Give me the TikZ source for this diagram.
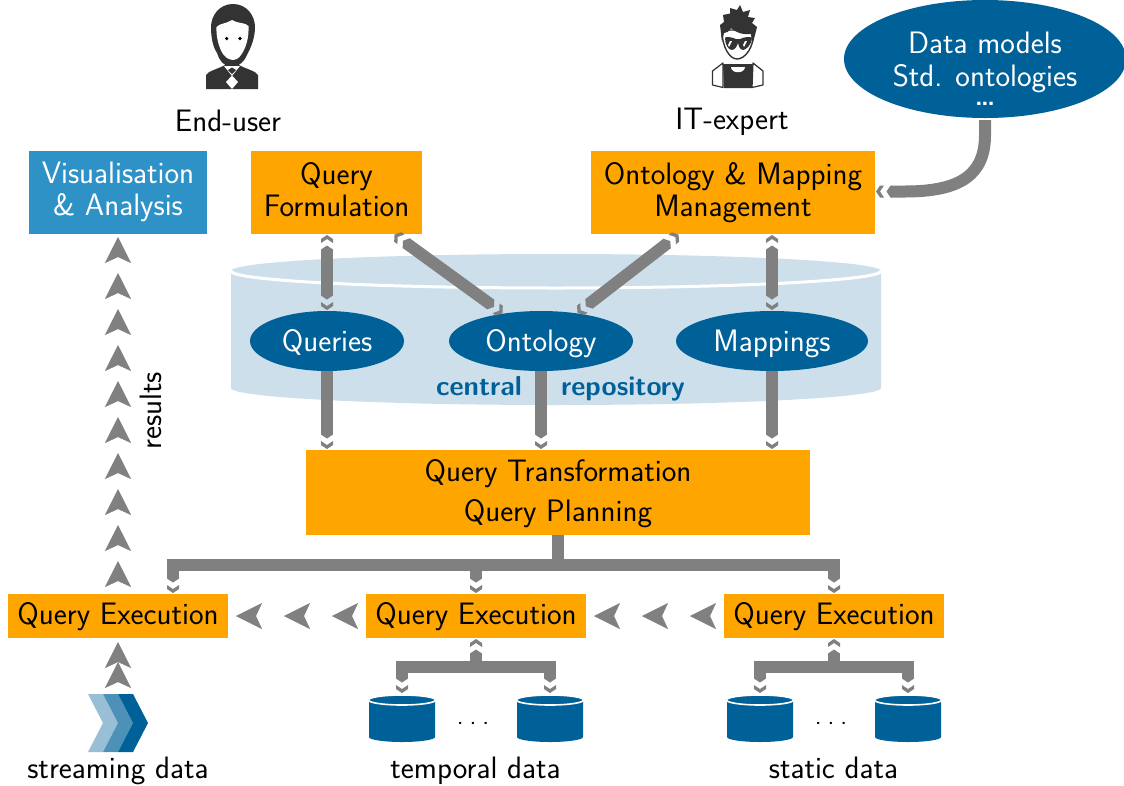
\documentclass[tikz,border=0pt]{standalone}
\usetikzlibrary{arrows.meta,shapes.geometric,decorations.markings,calc}
\definecolor{qorange}{HTML}{FFA500}
\definecolor{qblue}{HTML}{006199}
\definecolor{qvis}{HTML}{2E92C6}
\definecolor{qlight}{HTML}{CCDFEB}
\definecolor{qgray}{HTML}{808080}
\definecolor{qdark}{HTML}{333333}
\definecolor{qmid}{HTML}{4D90B8}
\definecolor{qpale}{HTML}{99BFD6}
\pgfdeclarearrow{
 name=QTip,
 setup code={
  \pgfarrowssettipend{0pt}
  \pgfarrowssetbackend{-16pt}
  \pgfarrowssetlineend{-15pt}
  \pgfarrowssetvisualbackend{-15pt}
  \pgfarrowshullpoint{0pt}{0pt}
  \pgfarrowshullpoint{-16pt}{6pt}
  \pgfarrowshullpoint{-16pt}{-6pt}
 },
 drawing code={
  \pgfpathmoveto{\pgfqpoint{0pt}{0pt}}
  \pgfpathlineto{\pgfqpoint{-4pt}{6pt}}
  \pgfpathlineto{\pgfqpoint{-8pt}{6pt}}
  \pgfpathlineto{\pgfqpoint{-4pt}{0pt}}
  \pgfpathlineto{\pgfqpoint{-8pt}{-6pt}}
  \pgfpathlineto{\pgfqpoint{-4pt}{-6pt}}
  \pgfpathclose
  \pgfpathmoveto{\pgfqpoint{-10.5pt}{0pt}}
  \pgfpathlineto{\pgfqpoint{-14.5pt}{6pt}}
  \pgfpathlineto{\pgfqpoint{-15.5pt}{6pt}}
  \pgfpathlineto{\pgfqpoint{-15.5pt}{-6pt}}
  \pgfpathlineto{\pgfqpoint{-14.5pt}{-6pt}}
  \pgfpathclose
  \pgfusepathqfill
 }
}
\tikzset{
 x=1pt,y=-1pt,
 every node/.style={font=\fontsize{31}{31.5}\selectfont\sffamily,inner sep=0pt,outer sep=0pt},
 obox/.style={fill=qorange,text=black,align=center,minimum height=#1},
 blob/.style={ellipse,fill=qblue,text=white,align=center},
 conn/.style={draw=qgray,line width=12pt},
 both/.style={conn,{QTip}-{QTip},shorten >=1pt,shorten <=1pt},
 down/.style={conn,-{QTip},shorten >=1pt},
 chain/.style={draw=none,postaction={decorate,decoration={markings,mark=between positions 0 and 1 step #1 with {\arrow[qgray]{Stealth[length=26pt,width=26pt,inset=6pt]}}}}},
 dbnode/.style={minimum width=66pt,minimum height=47pt},
 lab/.style={text=black,anchor=base},
 boldlab/.style={text=qblue,anchor=base,font=\fontsize{27.5}{31}\selectfont\sffamily\bfseries},
 onerow/.style={text height=24pt,text depth=#1},
 dotlab/.style={text=black,anchor=base,font=\fontsize{26}{31}\selectfont\sffamily},
}
\newcommand\qdb[2]{%
 \fill[qblue] (#1-33,#2-18) -- (#1-33,#2+19) arc[x radius=33,y radius=5,start angle=180,end angle=0] -- (#1+33,#2-18) -- cycle;
 \draw[white,line width=1.6pt,fill=qblue] (#1,#2-18) ellipse[x radius=33.5,y radius=5];
}
\begin{document}
\begin{tikzpicture}
\useasboundingbox (0,0) rectangle (1124,785);
\fill[white] (0,0) rectangle (1124,785);

% central repository
\fill[qlight] (231,271) -- (231,388) arc[x radius=325,y radius=17,start angle=180,end angle=0] -- (881,271) arc[x radius=325,y radius=17,start angle=0,end angle=-180] -- cycle;
\draw[white,line width=3pt] (231,271) arc[x radius=325,y radius=17,start angle=180,end angle=0];

% nodes
\node[obox=83pt,minimum width=178pt,fill=qvis,text=white] (vis) at (118,192) {Visualisation\\\& Analysis};
\node[obox=83pt,minimum width=171pt] (qf) at (336.5,192.5) {Query\\Formulation\vphantom{y}};
\node[obox=83pt,minimum width=284pt] (omm) at (733,192.5) {Ontology \& Mapping\\Management};
\node[blob,minimum width=154pt,minimum height=60pt,onerow=4pt] (q) at (327,341) {Queries};
\node[blob,minimum width=184pt,minimum height=60pt,onerow=4pt] (ont) at (541,341) {Ontology};
\node[blob,minimum width=192pt,minimum height=60pt,onerow=4pt] (map) at (772,341) {Mappings};
\node[blob,minimum width=282pt,minimum height=118pt,inner sep=-40pt,font=\fontsize{31}{33}\selectfont\sffamily] (dm) at (985,59) {\rule{0pt}{40pt}Data models\\Std. ontologies\\[-14pt]{\fontsize{25}{25}\selectfont\bfseries.\kern-1.5pt.\kern-1.5pt.}};
\node[boldlab] (cen) at (479,395) {central};
\node[boldlab] (rep) at (623,395) {repository};
\node[obox=85pt,minimum width=504pt,font=\fontsize{31}{40}\selectfont\sffamily] (qt) at (558,492.5) {\rule{0pt}{24pt}Query Transformation\\Query Planning};
\node[obox=44pt,minimum width=220pt,onerow=7pt] (qe1) at (118,616) {Query Execution};
\node[obox=44pt,minimum width=220pt,onerow=7pt] (qe2) at (476,616) {Query Execution};
\node[obox=44pt,minimum width=220pt,onerow=7pt] (qe3) at (834,616) {Query Execution};
\node[lab] (eu) at (228,131) {End-user};
\node[lab] (it) at (732,129) {IT-expert};
\node[text=black,rotate=90] (res) at (151,411) {results};
\node[lab] (sd) at (118,778) {streaming data};
\node[lab] (td) at (475.5,778) {temporal data};
\node[lab] (st) at (833.5,778) {static data};

% databases
\qdb{402}{718}\qdb{550}{718}\qdb{760}{718}\qdb{908}{718}
\node[dbnode] (d1) at (402,718.5) {};
\node[dbnode] (d2) at (550,718.5) {};
\node[dbnode] (d3) at (760,718.5) {};
\node[dbnode] (d4) at (908,718.5) {};
\node[dotlab] (dots1) at (473,724) {.\hspace{6pt}.\hspace{6pt}.};
\node[dotlab] (dots2) at (831,724) {.\hspace{6pt}.\hspace{6pt}.};

% streaming chevrons
\node[minimum width=60pt,minimum height=58pt] (stream) at (118,723) {};
\foreach \dx/\c in {-30/qpale,-15/qmid,0/qblue}
 \fill[\c,shift={(\dx,0)}] (118,694) -- (133,694) -- (148,723) -- (133,752) -- (118,752) -- (133,723) -- cycle;

% connectors
\draw[both] (q |- qf.south) -- (q.north);
\draw[both] (qf) -- (ont);
\draw[both] (omm) -- (ont);
\draw[both] (map |- omm.south) -- (map.north);
\draw[down] (q.south) -- (q |- qt.north);
\draw[down] (ont.south) -- (ont |- qt.north);
\draw[down] (map.south) -- (map |- qt.north);
\draw[down] (dm.south) ++(0,2) -- (985,135) .. controls (985,175) and (960,191.5) .. (905,191.5) -- (omm.east |- 0,191.5);
\coordinate (j1) at (173,594);
\draw[down] (qt.south) -- ++(0,30) -| (j1);
\draw[down] (qt.south) -- ++(0,30) -| (qe2.north);
\draw[down] (qt.south) -- ++(0,30) -| (qe3.north);
\draw[both,shorten >=2pt] (qe2.south) -- ++(0,29) -| (d1.north);
\draw[down,shorten >=2pt] (qe2.south) ++(0,29) -| (d2.north);
\draw[both,shorten >=2pt] (qe3.south) -- ++(0,29) -| (d3.north);
\draw[down,shorten >=2pt] (qe3.south) ++(0,29) -| (d4.north);

% arrow chains
\path[chain=36pt] (qe1.north) ++(0,-33) -- (vis.south);
\path[chain=48pt] (qe2.west) ++(-34,0) -- (qe1.east);
\path[chain=48pt] (qe3.west) ++(-34,0) -- (qe2.east);
\path[chain=20pt] (stream.north) ++(0,-32) -- (qe1.south);

% end-user icon
\node[minimum width=52pt,minimum height=88pt] (euicon) at (232,47) {};
\fill[qdark] (206,89) -- (206,75) .. controls (208,71) and (218,69) .. (225,65) -- (239,65) .. controls (246,69) and (256,71) .. (258,75) -- (258,89) -- cycle;
\fill[qdark] (233,4) .. controls (247,4) and (255,16) .. (255,27) .. controls (255,38) and (251,47) .. (248,53) .. controls (245,60) and (240,67) .. (232,67) .. controls (224,67) and (219,60) .. (217,53) .. controls (213,47) and (211,38) .. (211,27) .. controls (211,16) and (219,4) .. (233,4) -- cycle;
\fill[white] (232,20) .. controls (226,24) and (220,23) .. (216.5,27) .. controls (216,37) and (219,48) .. (223,54) .. controls (227,60) and (236,63) .. (241,55) .. controls (246,48) and (249,38) .. (248.5,26) .. controls (245,22) and (238,24) .. (232,20) -- cycle;
\fill[black] (226.7,38.5) circle[radius=1.8];
\fill[black] (240,38.5) circle[radius=1.8];
\fill[white] (224,66) -- (240,66) -- (232,76) -- cycle;
\fill[qdark] (228,70) -- (232,67.5) -- (236,70) -- (232,74) -- cycle;
\fill[white] (232,75.5) -- (238,82) -- (232,89) -- (226,82) -- cycle;

% IT-expert icon
\node[minimum width=50pt,minimum height=84pt] (iticon) at (737,46) {};
\fill[qdark] (723,64) -- (753,64) -- (752,88) -- (724,88) -- cycle;
\draw[qdark,line width=1.2pt,fill=white,line join=round] (723,63) -- (712.5,71) -- (712.5,85) -- (723,87.5) -- cycle;
\draw[qdark,line width=1.2pt,fill=white,line join=round] (753,63) -- (763,71) -- (763,85) -- (752,87.5) -- cycle;
\fill[white] (731,67) -- (745,67) .. controls (745,74) and (731,74) .. (731,67) -- cycle;
\draw[qdark,line width=1.4pt,fill=white] (722,30) .. controls (722,48) and (730,59) .. (737,59) .. controls (745,59) and (754,48) .. (754,30) -- cycle;
\fill[qdark] (722,42) -- (720,25) -- (724,22) -- (723,15) -- (730,13.5) -- (730,8) -- (737,10) -- (740,5) -- (743,12) -- (750,10) -- (748,17) -- (755,18) -- (752,23) -- (757,27) -- (755,35) -- (752,44) -- (751,34) .. controls (742,35) and (735,32) .. (731,28) .. controls (729,32) and (726,33) .. (724,33) -- cycle;
\fill[qdark] (725,38) .. controls (725,36) and (731,37) .. (736,39) -- (740,39) .. controls (744,37) and (751,36) .. (752,38) .. controls (752,44) and (746,50) .. (743,50) .. controls (740,50) and (738,45) .. (738,42) .. controls (738,45) and (735,50) .. (732,50) .. controls (728,50) and (725,44) .. (725,38) -- cycle;
\fill[white] (730,41) -- (732,41) -- (729,47) -- (728,45) -- cycle;
\fill[white] (745,41) -- (747,41) -- (744,47) -- (743,45) -- cycle;
\end{tikzpicture}
\end{document}
